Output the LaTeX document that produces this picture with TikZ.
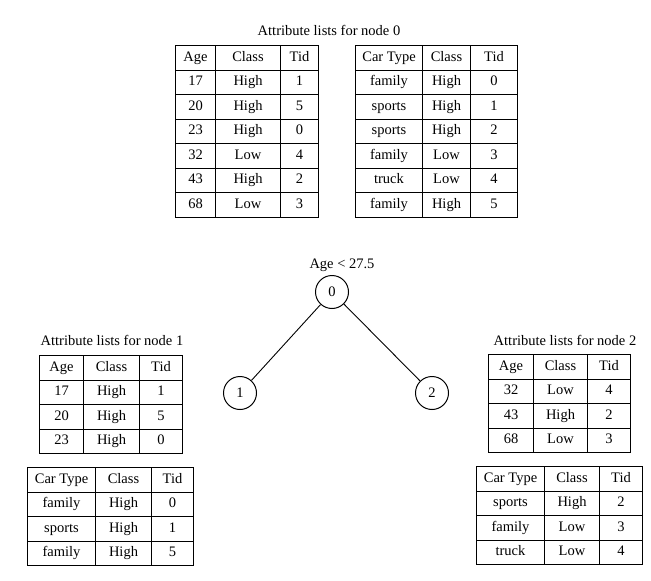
\documentclass[tikz,border=0pt]{standalone}
\usepackage{fontspec}
\setmainfont{Liberation Serif}
\begin{document}
\begin{tikzpicture}[x=1pt,y=-1pt,
  cell/.style={draw, line width=1pt, inner sep=0pt, minimum height=24.5pt, text height=9.5pt, text depth=3pt, anchor=north west, font=\fontsize{14.5}{16}\selectfont},
  treenode/.style={draw, circle, line width=1pt, minimum size=33pt, inner sep=0pt, font=\fontsize{14.5}{16}\selectfont},
  title/.style={font=\fontsize{14.5}{16}\selectfont, inner sep=0pt},
  branch/.style={line width=0.9pt}]
\useasboundingbox (0,0) rectangle (651,581);
\newcommand\attrtable[7]{%
  \foreach \ca/\cb/\cc [count=\i from 0] in {#7} {
    \node[cell, minimum width=#4pt] (#1-\i-1) at (#2, {#3+\i*24.5}) {\ca};
    \node[cell, minimum width=#5pt] (#1-\i-2) at ({#2+#4}, {#3+\i*24.5}) {\cb};
    \node[cell, minimum width=#6pt] (#1-\i-3) at ({#2+#4+#5}, {#3+\i*24.5}) {\cc};
  }}
% node 0 lists
\node[title] (title0) at (329,30) {Attribute lists for node 0};
\attrtable{t0a}{175}{45}{40}{65}{38}{Age/Class/Tid,17/High/1,20/High/5,23/High/0,32/Low/4,43/High/2,68/Low/3}
\attrtable{t0b}{355}{45}{67}{48}{47}{Car Type/Class/Tid,family/High/0,sports/High/1,sports/High/2,family/Low/3,truck/Low/4,family/High/5}
% tree
\node[title] (split) at (342,265) {Age < 27.5};
\node[treenode] (n0) at (332,292) {0};
\node[treenode] (n1) at (240,393) {1};
\node[treenode] (n2) at (432,393) {2};
\draw[branch] (n0) -- (n1);
\draw[branch] (n0) -- (n2);
% node 1 lists
\node[title] (title1) at (112,340) {Attribute lists for node 1};
\attrtable{t1a}{39}{355}{44}{56}{43}{Age/Class/Tid,17/High/1,20/High/5,23/High/0}
\attrtable{t1b}{27}{467}{68}{56}{42}{Car Type/Class/Tid,family/High/0,sports/High/1,family/High/5}
% node 2 lists
\node[title] (title2) at (565,340) {Attribute lists for node 2};
\attrtable{t2a}{488}{354}{45}{54}{43}{Age/Class/Tid,32/Low/4,43/High/2,68/Low/3}
\attrtable{t2b}{476}{466}{68}{55}{43}{Car Type/Class/Tid,sports/High/2,family/Low/3,truck/Low/4}
\end{tikzpicture}
\end{document}
